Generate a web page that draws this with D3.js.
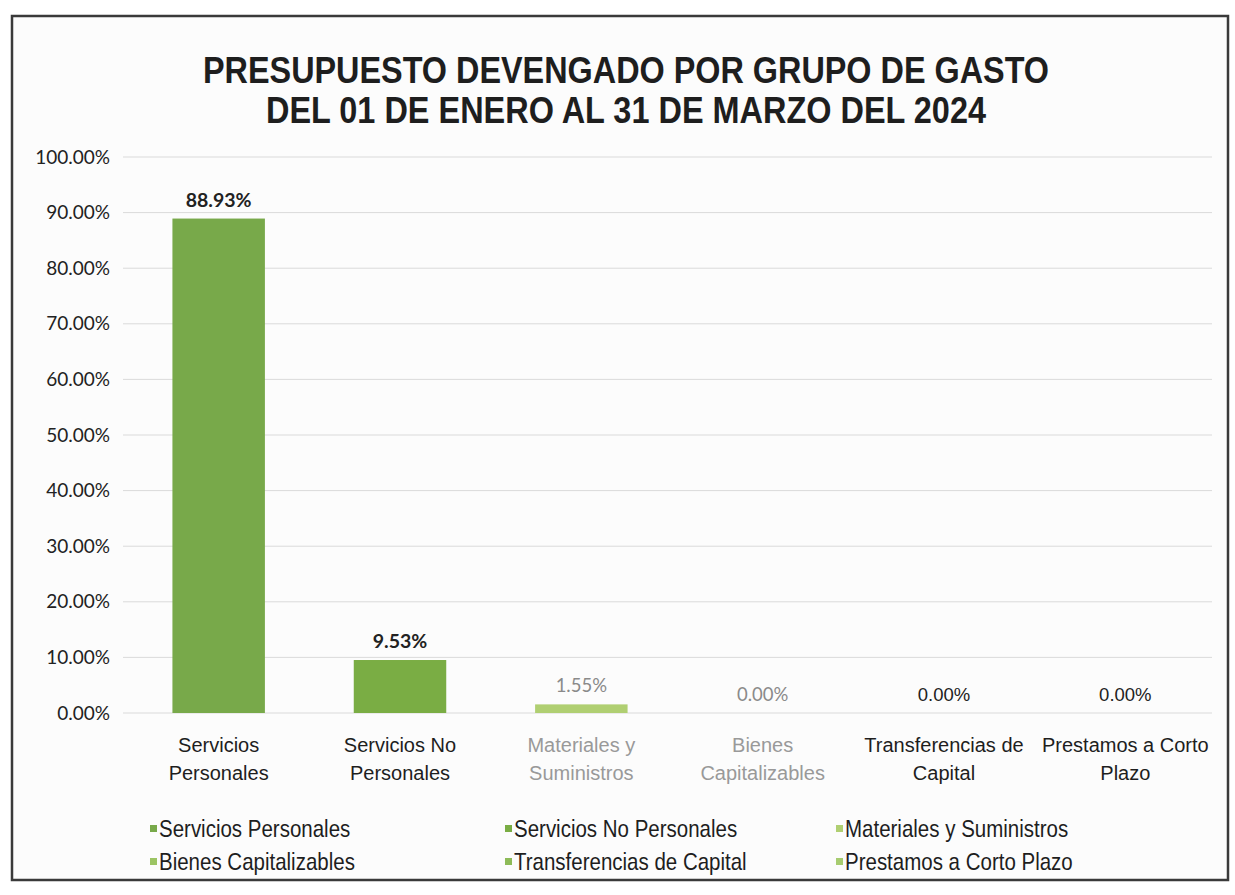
<!DOCTYPE html>
<html><head><meta charset="utf-8">
<script src="https://cdn.jsdelivr.net/npm/d3@7"></script>
<style>body{margin:0;background:#fff}svg{display:block}</style>
</head><body><svg id="c" width="1235" height="895"></svg>
<script>
const categories = [["Servicios","Personales"],["Servicios No","Personales"],["Materiales y","Suministros"],["Bienes","Capitalizables"],["Transferencias de","Capital"],["Prestamos a Corto","Plazo"]];
const legendNames = ["Servicios Personales","Servicios No Personales","Materiales y Suministros","Bienes Capitalizables","Transferencias de Capital","Prestamos a Corto Plazo"];
const values = [88.93, 9.53, 1.55, 0.00, 0.00, 0.00];
const valueLabels = ["88.93%","9.53%","1.55%","0.00%","0.00%","0.00%"];
const yTicks = [0,10,20,30,40,50,60,70,80,90,100];
const barColors = ["#78a94a","#7aad44","#b0cf72","#9cc463","#8dbb58","#a7cc70"];
const titleLines = ["PRESUPUESTO DEVENGADO POR GRUPO DE GASTO","DEL 01 DE ENERO AL 31 DE MARZO DEL 2024"];
const titleWidths = [846, 720];

const svg = d3.select("#c");
svg.append("rect").attr("x",12).attr("y",16).attr("width",1216).attr("height",864)
  .attr("fill","#fcfcfc").attr("stroke","#3a3a3a").attr("stroke-width",2.5);

const x = d3.scaleBand().domain(d3.range(categories.length)).range([128,1216]).paddingInner(0.49).paddingOuter(0.245);
const y = d3.scaleLinear().domain([0,100]).range([713,157]);

// title
svg.selectAll("text.title").data(titleLines).enter().append("text")
  .attr("x",626).attr("y",(d,i)=>83+i*40).attr("text-anchor","middle")
  .attr("font-family","Liberation Sans, Arial, sans-serif").attr("font-weight","bold")
  .attr("font-size",37).attr("fill","#1e1e1e")
  .attr("textLength",(d,i)=>titleWidths[i]).attr("lengthAdjust","spacingAndGlyphs")
  .text(d=>d);

// grid
svg.append("g").selectAll("line").data(yTicks).enter().append("line")
  .attr("x1",123).attr("x2",1212).attr("y1",d=>y(d)).attr("y2",d=>y(d))
  .attr("stroke","#dadada").attr("stroke-width",1);
const yAxis = d3.axisLeft(y).tickValues(yTicks).tickFormat(d=>d.toFixed(2)+"%").tickSize(0).tickPadding(0);
const ga = svg.append("g").attr("transform","translate(110,0)").call(yAxis);
ga.select(".domain").remove();
ga.selectAll("text").attr("font-family","Lato, sans-serif").attr("font-size",19).attr("fill","#222");

// bars
svg.append("g").selectAll("rect").data(values).enter().append("rect")
  .attr("x",(d,i)=>x(i)).attr("width",x.bandwidth())
  .attr("y",d=>y(d)).attr("height",d=>y(0)-y(d))
  .attr("fill",(d,i)=>barColors[i]);

// value labels
svg.append("g").selectAll("text").data(values).enter().append("text")
  .attr("x",(d,i)=>x(i)+x.bandwidth()/2).attr("y",d=>y(d)-12)
  .attr("text-anchor","middle")
  .attr("font-family",(d,i)=>i>=4?"Liberation Sans, Arial, sans-serif":"Lato, sans-serif")
  .attr("font-weight",(d,i)=>i<2?"bold":"normal")
  .attr("font-size",(d,i)=>i<2?19.5:18.5).attr("fill",(d,i)=>(i==2||i==3)?"#8a8a8a":"#222")
  .text((d,i)=>valueLabels[i]);

// category labels
const cl = svg.append("g").selectAll("text").data(categories).enter().append("text")
  .attr("text-anchor","middle").attr("font-family","Liberation Sans, Arial, sans-serif")
  .attr("font-size",20).attr("fill",(d,i)=>(i==2||i==3)?"#999":"#1e1e1e");
cl.each(function(d,i){
  const t=d3.select(this);
  d.forEach((line,j)=>t.append("tspan").attr("x",x(i)+x.bandwidth()/2).attr("y",752+j*28).text(line));
});

// legend
const legX = [150,505,836], legY = [837,870];
const lg = svg.append("g").selectAll("g").data(legendNames).enter().append("g")
  .attr("transform",(d,i)=>`translate(${legX[i%3]},${legY[Math.floor(i/3)]})`);
lg.append("rect").attr("x",0).attr("y",-12).attr("width",7).attr("height",7).attr("fill",(d,i)=>barColors[i]);
lg.append("text").attr("transform","translate(9,0) scale(1,1.18)")
  .attr("font-family","Liberation Sans, Arial, sans-serif").attr("font-size",20.5)
  .attr("fill","#1e1e1e").text(d=>d);
</script></body></html>
